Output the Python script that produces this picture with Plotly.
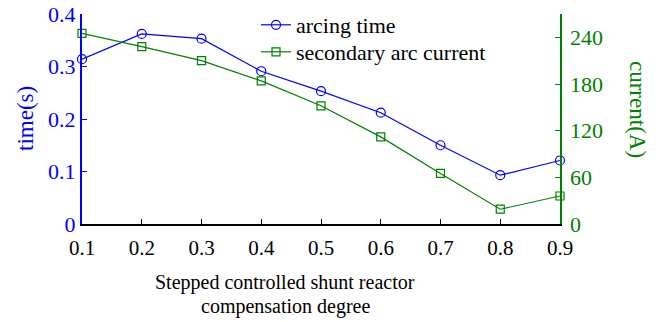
import plotly.graph_objects as go

degree = [0.1, 0.2, 0.3, 0.4, 0.5, 0.6, 0.7, 0.8, 0.9]
arcing_time = [0.314, 0.362, 0.353, 0.291, 0.253, 0.212, 0.150, 0.093, 0.121]
arc_current = [245, 228, 210, 184, 152, 112, 65, 19, 36]
x_ticks = [0.1, 0.2, 0.3, 0.4, 0.5, 0.6, 0.7, 0.8, 0.9]
left_ticks = [0, 0.1, 0.2, 0.3, 0.4]
left_labels = ["0", "0.1", "0.2", "0.3", "0.4"]
right_ticks = [0, 60, 120, 180, 240]

BLUE = "#0000ff"
GREEN = "#008000"
FONT = "Liberation Serif, Times New Roman, serif"

W, H = 660, 322
PL, PR, PT, PB = 82, 560, 14, 224  # plot box in screen pixels
L, T = PL, PT
R, B = W - PR, H - PB
pw, ph = PR - PL, PB - PT

def px(x):
    return (x - PL) / pw

def py(y):
    return (PB - y) / ph

fig = go.Figure()
fig.add_trace(go.Scatter(
    x=degree, y=arcing_time, name="arcing time", mode="lines+markers",
    line=dict(color=BLUE, width=1.2),
    marker=dict(symbol="circle-open", size=9, color=BLUE, line=dict(width=1.2)),
    cliponaxis=False, yaxis="y", legend="legend"))
fig.add_trace(go.Scatter(
    x=degree, y=arc_current, name="secondary arc current", mode="lines+markers",
    line=dict(color=GREEN, width=1.2),
    marker=dict(symbol="square-open", size=8, color=GREEN, line=dict(width=1.2)),
    cliponaxis=False, yaxis="y2", legend="legend2"))

leg_common = dict(xanchor="left", yanchor="middle", bgcolor="rgba(0,0,0,0)",
                  font=dict(size=22, family=FONT, color="black"), itemwidth=30)

fig.update_layout(
    width=W, height=H,
    margin=dict(l=L, r=R, t=T, b=B, pad=0, autoexpand=False),
    plot_bgcolor="white", paper_bgcolor="white",
    font=dict(family=FONT, size=20, color="black"),
    showlegend=True,
    legend=dict(x=px(256), y=py(25), **leg_common),
    legend2=dict(x=px(256), y=py(52), **leg_common),
    xaxis=dict(range=[0.1, 0.9], tickvals=x_ticks,
               ticktext=[str(v) for v in x_ticks], automargin=False,
               showgrid=False, zeroline=False, showline=True,
               linecolor="black", linewidth=2, ticks="inside", ticklen=5,
               tickcolor="black", tickfont=dict(size=21, color="black", family=FONT),
               ticklabelstandoff=4, ticklabeloverflow="allow"),
    yaxis=dict(range=[0, 0.4], tickvals=left_ticks, ticktext=left_labels,
               automargin=False, ticklabeloverflow="allow",
               showgrid=False, zeroline=False, showline=True,
               linecolor=BLUE, linewidth=2, ticks="inside", ticklen=5,
               tickcolor=BLUE, tickfont=dict(size=22, color=BLUE, family=FONT)),
    yaxis2=dict(range=[0, 270], tickvals=right_ticks,
                ticktext=[str(v) for v in right_ticks], automargin=False,
                overlaying="y", side="right", ticklabeloverflow="allow",
                showgrid=False, zeroline=False, showline=True,
                linecolor=GREEN, linewidth=1.5, ticks="inside", ticklen=5,
                tickcolor=GREEN, tickfont=dict(size=22, color=GREEN, family=FONT),
                ticklabelstandoff=4),
    annotations=[
        dict(text="time(s)", x=px(25), y=py(119), xref="paper", yref="paper",
             showarrow=False, textangle=-90, xanchor="center", yanchor="middle",
             font=dict(size=23, color=BLUE, family=FONT)),
        dict(text="current(A)", x=px(637), y=py(109), xref="paper", yref="paper",
             showarrow=False, textangle=90, xanchor="center", yanchor="middle",
             font=dict(size=23, color=GREEN, family=FONT)),
        dict(text="Stepped controlled shunt reactor", x=px(285), y=py(282),
             xref="paper", yref="paper", showarrow=False,
             xanchor="center", yanchor="middle",
             font=dict(size=20, color="black", family=FONT)),
        dict(text="compensation degree", x=px(285), y=py(306),
             xref="paper", yref="paper", showarrow=False,
             xanchor="center", yanchor="middle",
             font=dict(size=20, color="black", family=FONT)),
    ],
)

fig.write_html("out.html",
               config={"displayModeBar": False, "staticPlot": True},
               post_script="document.body.style.margin='0';"
                           "document.body.style.overflow='hidden';")
